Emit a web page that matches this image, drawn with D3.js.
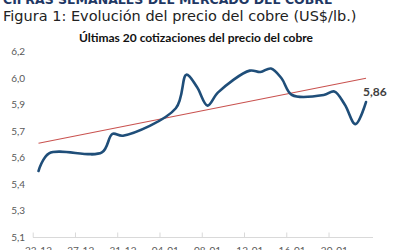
<!DOCTYPE html>
<html>
<head>
<meta charset="utf-8">
<script src="https://cdnjs.cloudflare.com/ajax/libs/d3/7.8.5/d3.min.js"></script>
<style>
  html, body { margin: 0; padding: 0; background: #fff; }
  svg { display: block; }
</style>
</head>
<body>
<svg id="chart" width="400" height="250"></svg>
<script>
// quote dates (dd-mm-yyyy) and copper price US$/lb
var dates = ["23-12-2025", "24-12-2025", "29-12-2025", "30-12-2025", "31-12-2025",
             "05-01-2026", "06-01-2026", "07-01-2026", "08-01-2026", "09-01-2026",
             "12-01-2026", "13-01-2026", "14-01-2026", "15-01-2026", "16-01-2026",
             "19-01-2026", "20-01-2026", "21-01-2026", "22-01-2026", "23-01-2026"];
var prices = [5.525, 5.625, 5.63, 5.735, 5.725,
              5.88, 6.07, 6.00, 5.895, 5.97,
              6.093, 6.085, 6.105, 6.05, 5.955,
              5.955, 5.975, 5.90, 5.79, 5.915];
// trend line, value at first and last date
var trend = [5.682, 6.05];
var lastLabel = "5,86";

// y axis ticks and the labels Excel shows for them
var yTicks = [5.15, 5.30, 5.45, 5.60, 5.75, 5.90, 6.05, 6.20];
var yLabels = ["5,1", "5,3", "5,4", "5,6", "5,7", "5,9", "6,0", "6,2"];
var xTicks = ["23-12-2025", "27-12-2025", "31-12-2025", "04-01-2026",
              "08-01-2026", "12-01-2026", "16-01-2026", "20-01-2026"];

var parse = d3.timeParse("%d-%m-%Y");
var fmt = d3.timeFormat("%d-%m");

var svg = d3.select("#chart");

// page header (cut off at top, as in the scan)
svg.append("text")
    .attr("x", 3).attr("y", 4)
    .attr("font-family", "DejaVu Sans").attr("font-weight", "bold")
    .attr("font-size", 12.5).attr("fill", "#1f3864")
    .text("CIFRAS SEMANALES DEL MERCADO DEL COBRE");

svg.append("text")
    .attr("x", 3).attr("y", 21)
    .attr("font-family", "DejaVu Sans")
    .attr("font-size", 14.5).attr("fill", "#222")
    .text("Figura 1: Evolución del precio del cobre (US$/lb.)");

svg.append("text")
    .attr("x", 196).attr("y", 42)
    .attr("text-anchor", "middle")
    .attr("font-family", "Lato").attr("font-weight", "bold")
    .attr("font-size", 12).attr("fill", "#111")
    .text("Últimas 20 cotizaciones del precio del cobre");

var x = d3.scaleTime()
    .domain([parse(dates[0]), parse(dates[dates.length - 1])])
    .range([38.5, 366]);
var y = d3.scaleLinear()
    .domain([5.15, 6.20])
    .range([237.3, 51.7]);

var halfDay = (x(parse("24-12-2025")) - x(parse("23-12-2025"))) / 2;

// y labels
svg.append("g").selectAll("text")
    .data(yTicks)
    .join("text")
    .attr("x", 25).attr("y", d => y(d))
    .attr("dy", "0.35em")
    .attr("text-anchor", "end")
    .attr("font-family", "Lato").attr("font-size", 10)
    .attr("fill", "#595959")
    .text((d, i) => yLabels[i]);

// x axis line
svg.append("line")
    .attr("x1", 33).attr("x2", 373)
    .attr("y1", 237.5).attr("y2", 237.5)
    .attr("stroke", "#d9d9d9").attr("stroke-width", 1);

var xg = svg.append("g");
xg.selectAll("line")
    .data(xTicks)
    .join("line")
    .attr("x1", d => x(parse(d)) - halfDay).attr("x2", d => x(parse(d)) - halfDay)
    .attr("y1", 232.5).attr("y2", 237.5)
    .attr("stroke", "#d9d9d9");
xg.selectAll("text")
    .data(xTicks)
    .join("text")
    .attr("x", d => x(parse(d))).attr("y", 254)
    .attr("text-anchor", "middle")
    .attr("font-family", "Lato").attr("font-size", 10)
    .attr("fill", "#595959")
    .text(d => fmt(parse(d)));

// trend line
svg.append("line")
    .attr("x1", x(parse(dates[0]))).attr("y1", y(trend[0]))
    .attr("x2", x(parse(dates[dates.length - 1]))).attr("y2", y(trend[1]))
    .attr("stroke", "#c9524f").attr("stroke-width", 1.1);

// price line
var line = d3.line()
    .x((d, i) => x(parse(dates[i])))
    .y(d => y(d))
    .curve(d3.curveCatmullRom.alpha(0.5));

svg.append("path")
    .datum(prices)
    .attr("d", line)
    .attr("fill", "none")
    .attr("stroke", "#1f4e79")
    .attr("stroke-width", 2.6)
    .attr("stroke-linecap", "round");

// last value label
svg.append("text")
    .attr("x", 363).attr("y", 96)
    .attr("font-family", "Lato").attr("font-weight", "bold")
    .attr("font-size", 12).attr("fill", "#404040")
    .text(lastLabel);
</script>
</body>
</html>
